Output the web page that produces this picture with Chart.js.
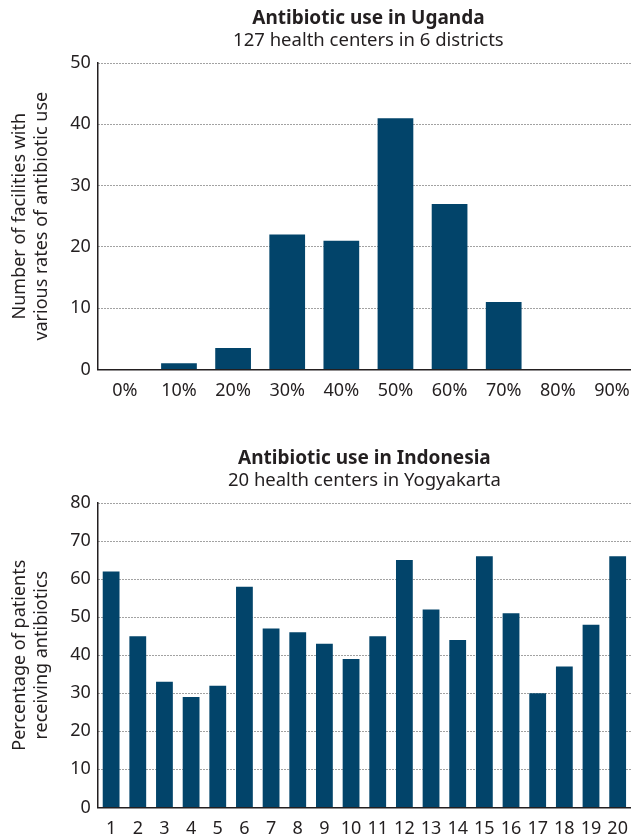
<!DOCTYPE html>
<html lang="en">
  <head>
    <meta charset="UTF-8" />
    <title>Antibiotic use</title>
    <style>
      html, body { margin: 0; padding: 0; background: #fff; overflow: hidden; }
      .box { position: absolute; left: 0; }
      #ugandaBox { top: 0; width: 639px; height: 412px; }
      #indonesiaBox { top: 440px; width: 631px; height: 410px; }
    </style>
  </head>
  <body>
    <div class="box" id="ugandaBox"><canvas id="ugandaChart"></canvas></div>
    <div class="box" id="indonesiaBox"><canvas id="indonesiaChart"></canvas></div>
    <script src="https://cdn.jsdelivr.net/npm/chart.js@4"></script>
    <script>
      // Uganda: facilities per rate of antibiotic use
      const ugandaRates = ['0%', '10%', '20%', '30%', '40%', '50%', '60%', '70%', '80%', '90%'];
      const ugandaFacilities = [0, 1, 3.5, 22, 21, 41, 27, 11, 0, 0];

      // Indonesia: share of patients receiving antibiotics per health center
      const yogyaCenters = ['1', '2', '3', '4', '5', '6', '7', '8', '9', '10',
        '11', '12', '13', '14', '15', '16', '17', '18', '19', '20'];
      const yogyaPercent = [62, 45, 33, 29, 32, 58, 47, 46, 43, 39,
        45, 65, 52, 44, 66, 51, 30, 37, 48, 66];

      const barColor = '#02446a';
      const ink = '#231f20';
      const family = "'Noto Sans', sans-serif";

      Chart.defaults.font.family = family;
      Chart.defaults.color = ink;

      const makeConfig = (labels, values, opts) => ({
        type: 'bar',
        data: {
          labels: labels,
          datasets: [{
            data: values,
            backgroundColor: barColor,
            borderWidth: 0,
            barPercentage: opts.barPct,
            categoryPercentage: 1,
          }],
        },
        options: {
          animation: { duration: 0 },
          responsive: true,
          maintainAspectRatio: false,
          layout: { padding: { left: 5, right: 0, top: 7, bottom: 7 } },
          plugins: {
            legend: { display: false },
            tooltip: { enabled: false },
            title: {
              display: true,
              text: opts.title,
              fullSize: false,
              color: ink,
              font: { size: 19, weight: 'bold', lineHeight: 1.2 },
              padding: { top: 0, bottom: 0 },
            },
            subtitle: {
              display: true,
              text: opts.subtitle,
              fullSize: false,
              color: ink,
              font: { size: 18.5, lineHeight: 1.2 },
              padding: { top: 0, bottom: 11 },
            },
          },
          scales: {
            x: {
              grid: { display: false },
              border: { display: true, color: ink, width: 1.5 },
              ticks: { color: ink, font: { size: 18, lineHeight: 1.2 }, padding: 3, maxRotation: 0, autoSkip: false },
            },
            y: {
              min: 0,
              max: opts.yMax,
              ticks: { stepSize: 10, color: ink, font: { size: 18 }, padding: 7 },
              grid: { color: '#444', lineWidth: 1, drawTicks: false },
              border: { display: true, color: ink, width: 1.5, dash: [1, 2] },
              title: {
                display: true,
                text: opts.yTitle,
                color: ink,
                font: { size: 18, lineHeight: 1.2 },
                padding: { top: 4, bottom: 11 },
              },
            },
          },
        },
      });

      new Chart(document.getElementById('ugandaChart'), makeConfig(ugandaRates, ugandaFacilities, {
        title: 'Antibiotic use in Uganda',
        subtitle: '127 health centers in 6 districts',
        yTitle: ['Number of facilities with', 'various rates of antibiotic use'],
        yMax: 50,
        barPct: 0.66,
      }));

      new Chart(document.getElementById('indonesiaChart'), makeConfig(yogyaCenters, yogyaPercent, {
        title: 'Antibiotic use in Indonesia',
        subtitle: '20 health centers in Yogyakarta',
        yTitle: ['Percentage of patients', 'receiving antibiotics'],
        yMax: 80,
        barPct: 0.63,
      }));
    </script>
  </body>
</html>
